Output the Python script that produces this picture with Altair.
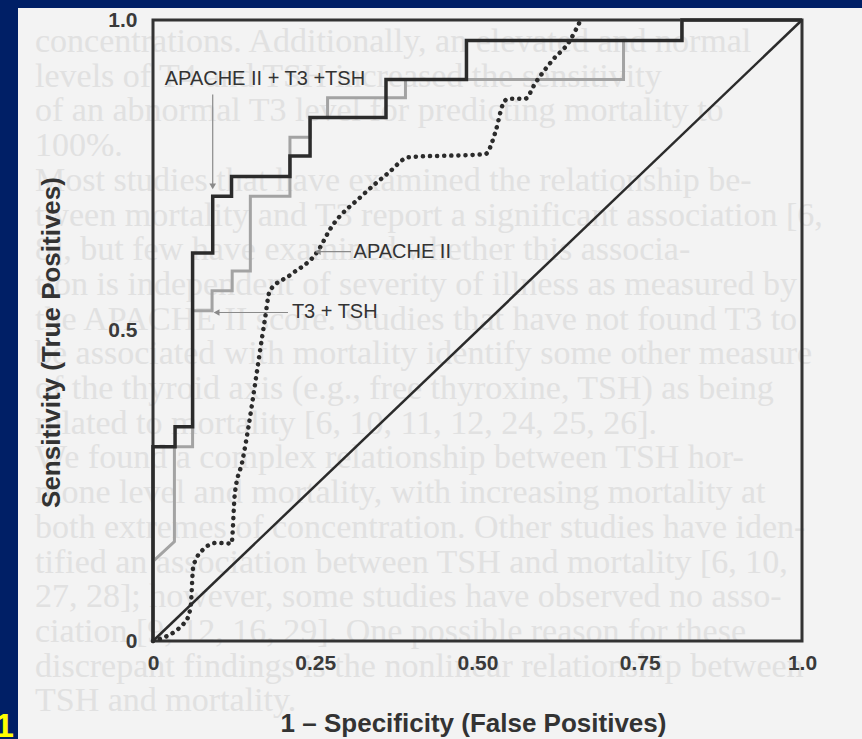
import altair as alt
import pandas as pd

# --- ROC curves: (1 - specificity, sensitivity) vertices -------------------
combo_fpr = [0.0, 0.0, 0.034, 0.034, 0.061, 0.061, 0.092, 0.092, 0.121, 0.121,
             0.211, 0.211, 0.242, 0.242, 0.359, 0.359, 0.483, 0.483, 0.815,
             0.815, 1.0]
combo_tpr = [0.0, 0.313, 0.313, 0.345, 0.345, 0.625, 0.625, 0.716, 0.716,
             0.748, 0.748, 0.781, 0.781, 0.843, 0.843, 0.904, 0.904, 0.967,
             0.967, 1.0, 1.0]

t3tsh_fpr = [0.0, 0.0, 0.033, 0.033, 0.061, 0.061, 0.091, 0.091, 0.122, 0.122,
             0.150, 0.150, 0.211, 0.211, 0.242, 0.242, 0.269, 0.269, 0.389,
             0.389, 0.725, 0.725, 0.815, 0.815, 1.0]
t3tsh_tpr = [0.0, 0.128, 0.160, 0.313, 0.313, 0.532, 0.532, 0.564, 0.564,
             0.596, 0.596, 0.716, 0.716, 0.811, 0.811, 0.843, 0.843, 0.875,
             0.875, 0.904, 0.904, 0.967, 0.967, 1.0, 1.0]

apache_fpr = [0.0, 0.050, 0.058, 0.062, 0.078, 0.098, 0.121, 0.126, 0.138,
              0.147, 0.158, 0.172, 0.180, 0.211, 0.254, 0.274, 0.321, 0.363,
              0.394, 0.512, 0.528, 0.539, 0.547, 0.573, 0.590, 0.617, 0.640,
              0.659]
apache_tpr = [0.0, 0.031, 0.055, 0.120, 0.148, 0.158, 0.157, 0.236, 0.291,
              0.344, 0.419, 0.515, 0.564, 0.589, 0.628, 0.665, 0.716, 0.754,
              0.779, 0.784, 0.821, 0.864, 0.873, 0.873, 0.900, 0.937, 0.963,
              1.0]

chance_fpr = [0.0, 1.0]
chance_tpr = [0.0, 1.0]

# curve annotations: label text, anchor, arrow start/end
label_text = ["APACHE II + T3 +TSH", "APACHE II", "T3 + TSH"]
label_x = [0.018, 0.309, 0.214]
label_y = [0.905, 0.627, 0.529]
arrow_x1 = [0.092, 0.305, 0.208]
arrow_y1 = [0.880, 0.627, 0.529]
arrow_x2 = [0.092, 0.254, 0.098]
arrow_y2 = [0.732, 0.627, 0.529]
arrow_head = ["triangle-down", "triangle-left", "triangle-left"]

x_ticks = [0, 0.25, 0.5, 0.75, 1.0]
y_ticks = [0, 0.5, 1.0]

# text of the facing page showing faintly through the paper
page_lines = [
    "concentrations. Additionally, an elevated and normal",
    "levels of T4 and TSH increased the sensitivity",
    "of an abnormal T3 level for predicting mortality to",
    "100%.",
    "    Most studies that have examined the relationship be-",
    "tween mortality and T3 report a significant association [6,",
    "8], but few have examined whether this associa-",
    "tion is independent of severity of illness as measured by",
    "the APACHE II score. Studies that have not found T3 to",
    "be associated with mortality identify some other measure",
    "of the thyroid axis (e.g., free thyroxine, TSH) as being",
    "related to mortality [6, 10, 11, 12, 24, 25, 26].",
    "    We found a complex relationship between TSH hor-",
    "mone level and mortality, with increasing mortality at",
    "both extremes of concentration. Other studies have iden-",
    "tified an association between TSH and mortality [6, 10,",
    "27, 28]; however, some studies have observed no asso-",
    "ciation [9, 12, 16, 29]. One possible reason for these",
    "discrepant findings is the nonlinear relationship between",
    "TSH and mortality.",
]

W, H = 649, 621
INK = "#2b2b2b"
FONT = "Liberation Sans"


def curve(fpr, tpr):
    return pd.DataFrame({"fpr": fpr, "tpr": tpr, "i": range(len(fpr))})


xs = alt.Scale(domain=[0, 1], nice=False)
ys = alt.Scale(domain=[0, 1], nice=False)

x_axis = alt.Axis(
    values=x_ticks, grid=False, domain=False, ticks=False, zindex=2,
    labelExpr="datum.value == 0 ? '0' : datum.value == 1 ? '1.0' : format(datum.value, '.2f')",
    labelFont=FONT, labelFontSize=21, labelFontWeight="bold", labelColor="#3a3a3a",
    labelPadding=11, labelFlush=False,
    title="1 \u2013 Specificity (False Positives)", titleFont=FONT, titleFontSize=26,
    titleFontWeight="bold", titleColor="#333333", titleX=320, titleY=82,
    titleAlign="center", titleBaseline="middle",
)
y_axis = alt.Axis(
    values=y_ticks, grid=False, domain=False, ticks=False, zindex=2,
    labelExpr="datum.value == 0 ? '0' : datum.value == 1 ? '1.0' : format(datum.value, '.1f')",
    labelFont=FONT, labelFontSize=21, labelFontWeight="bold", labelColor="#3a3a3a",
    labelPadding=16, labelFlush=False,
    title="Sensitivity (True Positives)", titleFont=FONT, titleFontSize=26,
    titleFontWeight="bold", titleColor="#333333", titleX=-102, titleY=322,
    titleAngle=270, titleAlign="center", titleBaseline="middle",
)

# paper sheet
paper = alt.Chart(pd.DataFrame({"k": [0]})).mark_rect(color="#f3f3f3").encode(
    x=alt.value(-135), x2=alt.value(709), y=alt.value(-12), y2=alt.value(719)
)

# faint show-through text
bg = pd.DataFrame({"line": page_lines, "row": range(len(page_lines))})
show_through = (
    alt.Chart(bg)
    .transform_calculate(py="22 + datum.row * 34.7")
    .mark_text(align="left", baseline="middle", font="Liberation Serif",
               fontSize=34, color="#e1e1e1")
    .encode(x=alt.value(-118), y=alt.Y("py:Q", scale=None, axis=None),
            text="line:N")
)

frame = alt.Chart(pd.DataFrame({"a": [0], "b": [1]})).mark_rect(
    filled=False, stroke="#333333", strokeWidth=3
).encode(
    x=alt.X("a:Q", scale=xs, axis=x_axis), x2="b:Q",
    y=alt.Y("a:Q", scale=ys, axis=y_axis), y2="b:Q",
)

chance = alt.Chart(curve(chance_fpr, chance_tpr)).mark_line(
    color=INK, strokeWidth=2.5
).encode(x=alt.X("fpr:Q", scale=xs), y=alt.Y("tpr:Q", scale=ys), order="i:Q")

t3tsh = alt.Chart(curve(t3tsh_fpr, t3tsh_tpr)).mark_line(
    color="#a3a3a3", strokeWidth=3
).encode(x=alt.X("fpr:Q", scale=xs), y=alt.Y("tpr:Q", scale=ys), order="i:Q")

apache = alt.Chart(curve(apache_fpr, apache_tpr)).mark_line(
    color=INK, strokeWidth=4.5, strokeDash=[0.1, 7], strokeCap="round",
    interpolate="monotone"
).encode(x=alt.X("fpr:Q", scale=xs), y=alt.Y("tpr:Q", scale=ys), order="i:Q")

combo = alt.Chart(curve(combo_fpr, combo_tpr)).mark_line(
    color=INK, strokeWidth=3.5
).encode(x=alt.X("fpr:Q", scale=xs), y=alt.Y("tpr:Q", scale=ys), order="i:Q")

ann = pd.DataFrame({
    "text": label_text, "lx": label_x, "ly": label_y,
    "x1": arrow_x1, "y1": arrow_y1, "x2": arrow_x2, "y2": arrow_y2,
    "head": arrow_head,
})
labels = alt.Chart(ann).mark_text(
    align="left", baseline="middle", font=FONT, fontSize=20, color="#333333"
).encode(x=alt.X("lx:Q", scale=xs), y=alt.Y("ly:Q", scale=ys), text="text:N")

arrows = alt.Chart(ann).mark_rule(color="#8a8a8a", strokeWidth=1.2).encode(
    x=alt.X("x1:Q", scale=xs), y=alt.Y("y1:Q", scale=ys), x2="x2:Q", y2="y2:Q"
)
heads = alt.Chart(ann).mark_point(
    filled=True, color="#8a8a8a", size=45, opacity=1
).encode(
    x=alt.X("x2:Q", scale=xs), y=alt.Y("y2:Q", scale=ys),
    shape=alt.Shape("head:N", scale=None),
)

slide_no = alt.Chart(pd.DataFrame({"t": ["1"]})).mark_text(
    align="right", baseline="alphabetic", font=FONT, fontSize=34,
    fontWeight="bold", color="#ffff00"
).encode(x=alt.value(-139), y=alt.value(717), text="t:N")

chart = alt.layer(
    paper, show_through, frame, t3tsh, chance, apache, combo, arrows, heads,
    labels, slide_no
).properties(
    width=W, height=H, background="#001f66",
    padding={"left": 153, "top": 20, "right": 60, "bottom": 98},
    autosize=alt.AutoSizeParams(type="none"),
).configure_view(strokeWidth=0)

chart.save("out.html", embed_options={"renderer": "svg", "actions": False})
